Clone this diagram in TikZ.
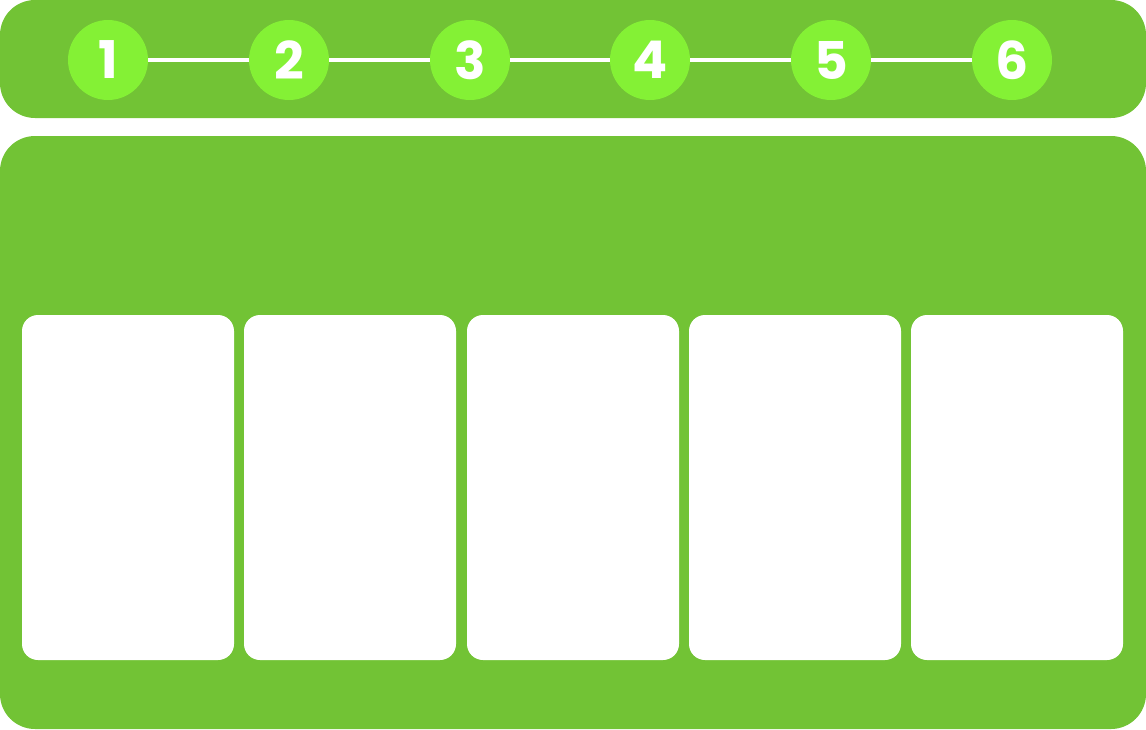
\documentclass[tikz,border=0pt]{standalone}
\usepackage{fontspec}
\setmainfont{Poppins}[UprightFont=* Bold]
\usepackage{tikz}
\usetikzlibrary{positioning}
\definecolor{panelgreen}{HTML}{72C335}
\definecolor{stepgreen}{HTML}{84F135}
\tikzset{
	stepdot/.style={circle,fill=stepgreen,minimum size=80pt,inner sep=0pt,text=white,font=\fontsize{52}{52}\selectfont},
	stepline/.style={draw=white,line width=3.6pt},
	card/.style={draw=none,fill=white,rounded corners=16pt}
}
\begin{document}
\begin{tikzpicture}[x=1pt,y=-1pt]
	\useasboundingbox (0,0) rectangle (1146,729);
	\draw[draw=none,fill=panelgreen,rounded corners=35pt] (0,0) rectangle (1146,118);
	\draw[draw=none,fill=panelgreen,rounded corners=35pt] (0,136) rectangle (1146,729);
	
	\draw[card] (22,315) rectangle (234,660);
	\draw[card] (244,315) rectangle (456,660);
	\draw[card] (467,315) rectangle (679,660);
	\draw[card] (689,315) rectangle (901,660);
	\draw[card] (911,315) rectangle (1123,660);
	
	\node[stepdot] (s1) at (108,60) {1};
	\node[stepdot] (s2) at (289,60) {2};
	\node[stepdot] (s3) at (470,60) {3};
	\node[stepdot] (s4) at (650,60) {4};
	\node[stepdot] (s5) at (831,60) {5};
	\node[stepdot] (s6) at (1012,60) {6};
	\draw[stepline] (s1) -- (s2);
	\draw[stepline] (s2) -- (s3);
	\draw[stepline] (s3) -- (s4);
	\draw[stepline] (s4) -- (s5);
	\draw[stepline] (s5) -- (s6);
\end{tikzpicture}
\end{document}
